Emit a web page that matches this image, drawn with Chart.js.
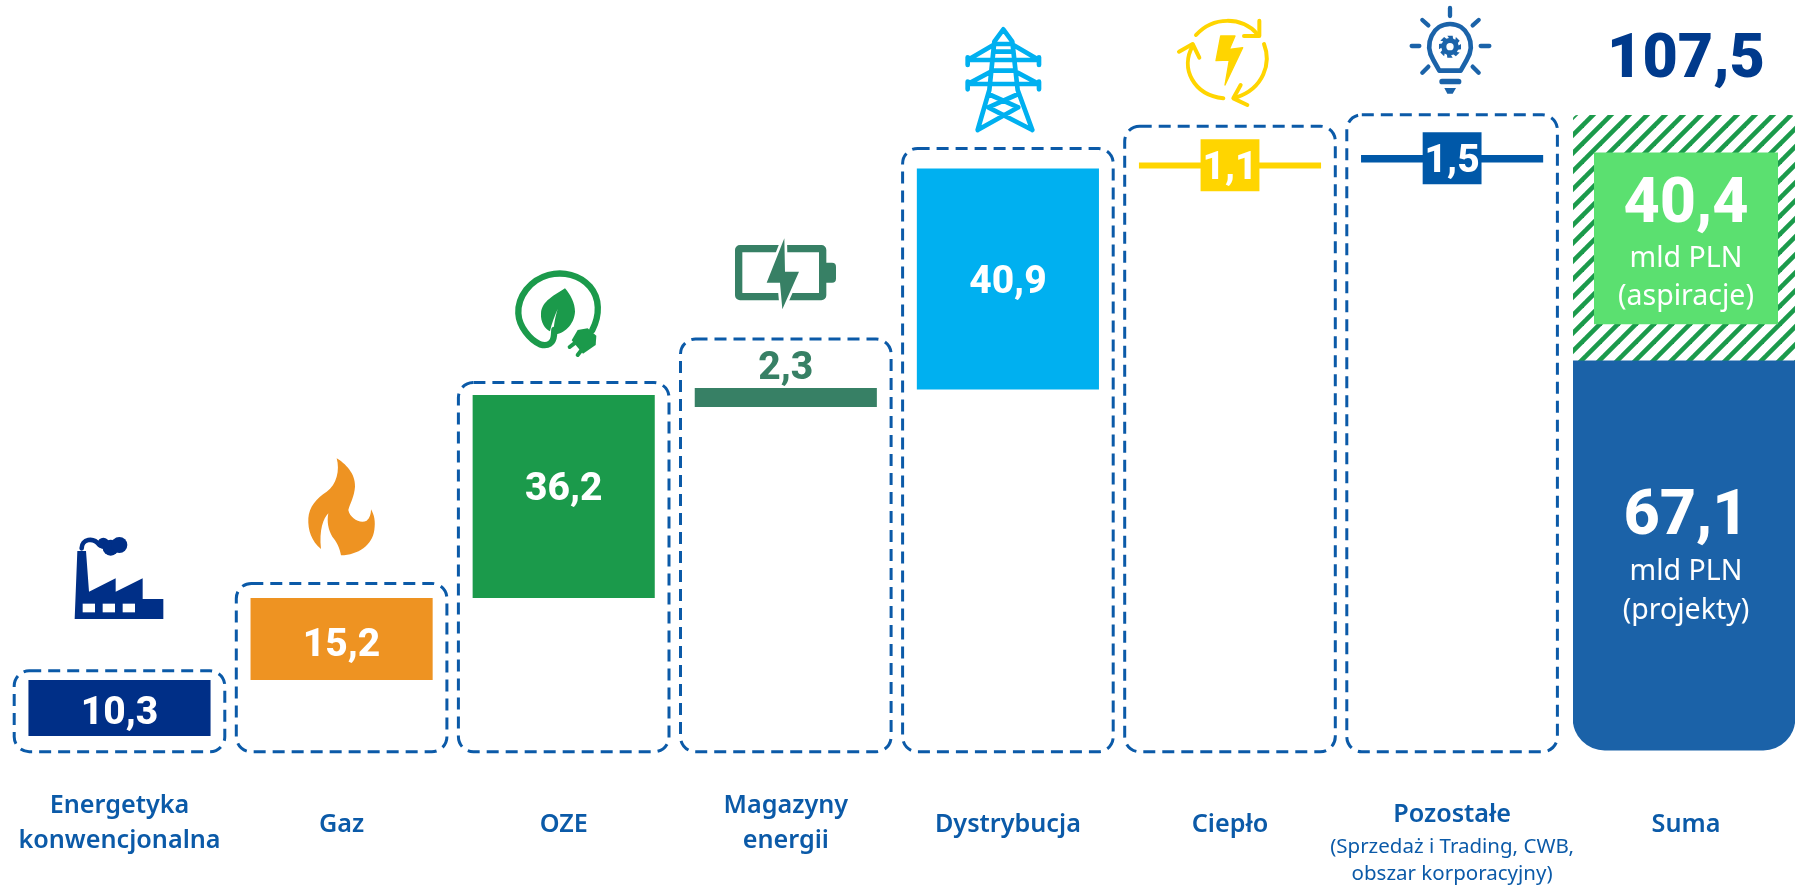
<!DOCTYPE html>
<html lang="pl"><head><meta charset="utf-8">
<style>html,body{margin:0;padding:0;background:#fff;overflow:hidden}canvas{display:block}</style>
<script src="https://cdn.jsdelivr.net/npm/chart.js@4"></script>
</head><body><canvas id="c" width="1795" height="886"></canvas>
<script>
// ---------- data ----------
const categories = ['Energetyka konwencjonalna','Gaz','OZE','Magazyny energii','Dystrybucja','Ciepło','Pozostałe'];
const valueLabels = ['10,3','15,2','36,2','2,3','40,9','1,1','1,5'];
const barLow  = [0, 10.3, 25.4, 60.6, 63.8, 104.5, 105.6];
const barHigh = [10.3, 25.4, 62.8, 64.1, 104.5, 105.6, 107.0];
const chipLow  = [null,null,null,null,null,100.3,101.6];
const chipHigh = [null,null,null,null,null,109.9,111.2];
const boxTop = [12.0,28.1,65.1,73.1,108.2,112.3,114.4];
const boxBottom = -2.9;
const sumCategory = ['Suma'];
const sumTotal = '107,5';
const projectsLabel = '67,1';
const aspirationsLabel = '40,4';
const projectsRange = [-2.6, 69.1];
const hatchRange = [69.1, 114.3];
const aspirationsRange = [75.9, 107.4];
const categoryLines = [['Energetyka','konwencjonalna'],['Gaz'],['OZE'],['Magazyny','energii'],['Dystrybucja'],['Ciepło'],['Pozostałe']];
const otherSubLines = ['(Sprzedaż i Trading, CWB,','obszar korporacyjny)'];
const unitLine = 'mld PLN';
const projectsLine = '(projekty)';
const aspirationsLine = '(aspiracje)';

// ---------- styles ----------
const barColors = ['#002F87','#EE9322','#1B9A4B','#378065','#00B0F0','#FFD500','#0058A8'];
const chipColors = barColors;
const labelColor = '#0B5AA8';
const VAL = '"Roboto"';
const TXT = '"Noto Sans"';

function hatchPattern(){
  const p=document.createElement('canvas');p.width=p.height=18;
  const g=p.getContext('2d');g.fillStyle='#fff';g.fillRect(0,0,18,18);
  g.strokeStyle='#1B9A4B';g.lineWidth=4.6;
  for(const k of [-2,16,34]){g.beginPath();g.moveTo(k+2,-2);g.lineTo(k-20,20);g.stroke();}
  return document.getElementById('c').getContext('2d').createPattern(p,'repeat');
}

// ---------- plugins ----------
const spans={x:[8.45,1563.15],xSum:[1573,1795],xAsp:[1594,1778]};
const placeAxes={id:'placeAxes',afterLayout(ch){
  for(const k in spans){const s=ch.scales[k];s.left=spans[k][0];s.right=spans[k][1];s.width=s.right-s.left;s.configure();}
}};
const boxes={id:'boxes',beforeDatasetsDraw(ch){
  const {ctx,scales:{x,y}}=ch;ctx.save();ctx.strokeStyle=labelColor;ctx.lineWidth=3;ctx.setLineDash([12,7]);
  boxTop.forEach((t,i)=>{const c=x.getPixelForValue(i),T=y.getPixelForValue(t),B=y.getPixelForValue(boxBottom);
    ctx.beginPath();ctx.roundRect(c-105.3,T,210.6,B-T,Math.min(15,(B-T)/2));ctx.stroke();});
  ctx.restore();
}};
function capText(ctx,s,cx,cy,size,weight,family,color,cap=0.711){
  ctx.font=`${weight} ${size}px ${family}`;ctx.fillStyle=color;ctx.textAlign='center';ctx.textBaseline='alphabetic';
  ctx.fillText(s,cx,cy+size*cap/2);
}
const texts={id:'texts',afterDatasetsDraw(ch){
  const {ctx,scales:{x,y,xAsp}}=ch;ctx.save();
  valueLabels.forEach((s,i)=>{
    const mid=y.getPixelForValue((barLow[i]+barHigh[i])/2);
    const shift=[2,3,-10,-32,0,0,0][i];
    const cy=i===5?165:i===6?158:mid+shift;
    capText(ctx,s,x.getPixelForValue(i),cy,39,800,VAL,i===3?barColors[3]:'#fff');
  });
  const cx=xAsp.getPixelForValue(0);
  capText(ctx,sumTotal,cx,55,61,900,VAL,'#003A8C');
  capText(ctx,aspirationsLabel,cx,200,63,800,VAL,'#fff');
  capText(ctx,projectsLabel,cx,512,63,800,VAL,'#fff');
  const line=(s,px,base,size,w,col)=>{ctx.font=`${w} ${size}px ${TXT}`;ctx.fillStyle=col;ctx.textAlign='center';ctx.textBaseline='alphabetic';ctx.fillText(s,px,base);};
  line(unitLine,cx,267,28.5,400,'#fff');line(aspirationsLine,cx,305,28.5,400,'#fff');
  line(unitLine,cx,580,28.5,400,'#fff');line(projectsLine,cx,619,28.5,400,'#fff');
  categoryLines.forEach((ls,i)=>{
    const px=x.getPixelForValue(i);
    const bases=ls.length===2?[813.3,848.3]:(i===6?[822.3]:[831.7]);
    ls.forEach((s,j)=>line(s,px,bases[j],25.2,600,labelColor));
  });
  const p7=x.getPixelForValue(6);
  line(otherSubLines[0],p7,853.3,20.5,400,labelColor);line(otherSubLines[1],p7,880,20.5,400,labelColor);
  line(sumCategory[0],cx,831.7,25.2,600,labelColor);
  ctx.restore();
}};
function at(ctx,ox,oy,fn){ctx.save();ctx.translate(ox,oy);ctx.scale(1/3,1/3);ctx.lineCap='round';ctx.lineJoin='round';fn();ctx.restore();}
function poly(ctx,pts){ctx.beginPath();pts.forEach((p,i)=>i?ctx.lineTo(p[0],p[1]):ctx.moveTo(p[0],p[1]));ctx.closePath();}
function seg(ctx,list){ctx.beginPath();list.forEach(l=>{ctx.moveTo(l[0],l[1]);for(let i=2;i<l.length;i+=2)ctx.lineTo(l[i],l[i+1]);});ctx.stroke();}
const icons={id:'icons',afterDatasetsDraw(ch){
  const ctx=ch.ctx;
  // factory
  at(ctx,60,525,()=>{const c='#002F87';ctx.fillStyle=c;ctx.strokeStyle=c;
    poly(ctx,[[44,282],[52,78],[78,78],[87,200],[167,160],[167,200],[248,160],[248,222],[310,222],[310,282]]);ctx.fill();
    ctx.fillStyle='#fff';[68,128,188].forEach(a=>ctx.fillRect(a,236,37,26));
    ctx.fillStyle=c;ctx.lineWidth=14;ctx.beginPath();ctx.moveTo(65,70);ctx.bezierCurveTo(65,42,100,35,118,60);ctx.stroke();
    [[130,55,17],[152,68,24],[178,60,24]].forEach(a=>{ctx.beginPath();ctx.arc(a[0],a[1],a[2],0,7);ctx.fill();});
  });
  // flame
  at(ctx,295,450,()=>{ctx.fillStyle='#EE9322';ctx.fill(new Path2D('M125,25 C150,40 182,70 180,110 C178,140 165,160 160,180 C165,205 195,222 215,212 C225,205 228,190 228,178 C238,195 242,215 238,240 C232,285 190,315 138,316 C135,295 125,275 112,260 C100,240 95,215 100,190 C85,205 72,240 78,297 C50,275 38,240 40,205 C42,170 65,145 95,125 C125,105 135,60 125,25 Z'));});
  // plug and leaf
  at(ctx,505,265,()=>{const c='#1B9A4B';ctx.strokeStyle=c;ctx.fillStyle=c;ctx.lineWidth=19;
    ctx.stroke(new Path2D('M262,195 C285,150 285,100 255,65 C225,30 175,18 130,30 C75,45 38,95 40,145 C42,185 75,225 105,238 C130,245 145,235 147,210 L148,195'));
    ctx.fill(new Path2D('M180,70 C150,90 110,108 108,145 C106,172 120,192 135,199 C140,175 150,150 158,132 C150,160 147,175 145,208 C178,208 208,178 210,140 C210,115 197,90 180,70 Z'));
    poly(ctx,[[218,195],[248,190],[274,212],[272,240],[234,266],[200,226]]);ctx.fill();
    ctx.lineWidth=12;seg(ctx,[[212,232,194,246],[232,252,218,270]]);
  });
  // battery
  at(ctx,725,230,()=>{const c='#378065';ctx.strokeStyle=c;ctx.fillStyle=c;ctx.lineWidth=22;
    ctx.beginPath();ctx.roundRect(41,56,252,144,4);ctx.stroke();
    ctx.beginPath();ctx.roundRect(300,98,33,60,[0,12,12,0]);ctx.fill();
    const bolt=[[178,25],[125,158],[165,158],[172,238],[222,125],[180,125]];
    ctx.strokeStyle='#fff';ctx.lineWidth=16;poly(ctx,bolt);ctx.stroke();ctx.fillStyle=c;ctx.fill();
  });
  // tower
  at(ctx,955,20,()=>{ctx.strokeStyle='#00B0F0';ctx.lineWidth=14;
    seg(ctx,[[118,65,145,28,172,65],[118,65,103,210,68,330],[172,65,188,210,232,330],[118,72,172,72],[115,95,175,95],[38,120,252,120],[38,120,115,75],[252,120,175,75],[38,112,38,135],[252,112,252,135],[38,192,252,192],[38,192,108,155],[252,192,182,155],[38,185,38,208],[252,185,252,208],[110,152,180,152],[68,330,190,262],[232,330,100,262],[100,222,190,262],[190,222,100,262]]);
  });
  // heat
  at(ctx,1170,10,()=>{const c='#FFD500';ctx.strokeStyle=c;ctx.fillStyle=c;ctx.lineWidth=12;
    ctx.stroke(new Path2D('M78,75 C130,18 215,20 262,72'));
    ctx.stroke(new Path2D('M282,102 C305,160 280,235 200,262'));
    ctx.stroke(new Path2D('M160,265 C70,255 30,175 68,108'));
    seg(ctx,[[268,32,268,78,222,78],[212,225,190,265,232,285],[27,125,68,102,88,143]]);
    poly(ctx,[[152,78],[195,78],[178,118],[218,113],[165,225],[178,150],[138,152]]);ctx.fill();ctx.lineWidth=4;ctx.stroke();
  });
  // bulb
  at(ctx,1400,0,()=>{const c='#1B63A9';ctx.strokeStyle=c;ctx.fillStyle=c;ctx.lineWidth=13;
    seg(ctx,[[150,24,150,48],[67,60,85,76],[236,60,218,76],[35,138,58,138],[242,138,268,138],[67,218,85,200],[236,218,218,200]]);
    ctx.lineWidth=14;ctx.stroke(new Path2D('M118,212 L100,180 C70,130 100,72 150,72 C200,72 230,130 200,180 L182,212 Z'));
    ctx.beginPath();ctx.roundRect(118,236,66,17,8);ctx.fill();
    poly(ctx,[[133,264],[168,264],[158,281],[142,281]]);ctx.fill();
    const pts=[];for(let i=0;i<8;i++){const a=i*Math.PI/4;for(const [d,r] of [[-.24,34],[.24,34],[.36,26],[.66,26]]){pts.push([150+r*Math.cos(a+d),140+r*Math.sin(a+d)]);}}
    poly(ctx,pts);ctx.fill();
    ctx.fillStyle='#fff';ctx.beginPath();ctx.arc(150,140,11,0,7);ctx.fill();
  });
}};

// ---------- chart ----------
const pair=(a,b)=>a.map((v,i)=>v===null?null:[v,b[i]]);
const fullSum=(r)=>[r];
new Chart(document.getElementById('c'),{
  type:'bar',
  data:{labels:categories,datasets:[
    {label:'Segmenty',data:pair(barLow,barHigh),xAxisID:'x',backgroundColor:barColors,barPercentage:0.82,categoryPercentage:1,grouped:false,order:2},
    {label:'Etykiety',data:pair(chipLow,chipHigh),xAxisID:'x',backgroundColor:chipColors,barPercentage:0.265,categoryPercentage:1,grouped:false,order:1},
    {label:'Projekty',data:fullSum(projectsRange),xAxisID:'xSum',backgroundColor:'#1B62A8',borderSkipped:false,borderRadius:{topLeft:0,topRight:0,bottomLeft:32,bottomRight:32},barPercentage:1,categoryPercentage:1,grouped:false,order:3},
    {label:'Aspiracje (tło)',data:fullSum(hatchRange),xAxisID:'xSum',backgroundColor:hatchPattern(),borderSkipped:false,borderRadius:{topLeft:5,topRight:5,bottomLeft:0,bottomRight:0},barPercentage:1,categoryPercentage:1,grouped:false,order:3},
    {label:'Aspiracje',data:fullSum(aspirationsRange),xAxisID:'xAsp',backgroundColor:'#5BE070',barPercentage:1,categoryPercentage:1,grouped:false,order:0}
  ]},
  options:{responsive:false,animation:false,devicePixelRatio:1,
    layout:{padding:0},
    plugins:{legend:{display:false},tooltip:{enabled:false}},
    scales:{
      x:{type:'category',labels:categories,display:false,offset:true},
      xSum:{type:'category',labels:sumCategory,display:false,offset:true},
      xAsp:{type:'category',labels:sumCategory,display:false,offset:true},
      y:{type:'linear',display:false,min:-27.62,max:135.54}
    }
  },
  plugins:[placeAxes,boxes,texts,icons]
});
</script></body></html>
